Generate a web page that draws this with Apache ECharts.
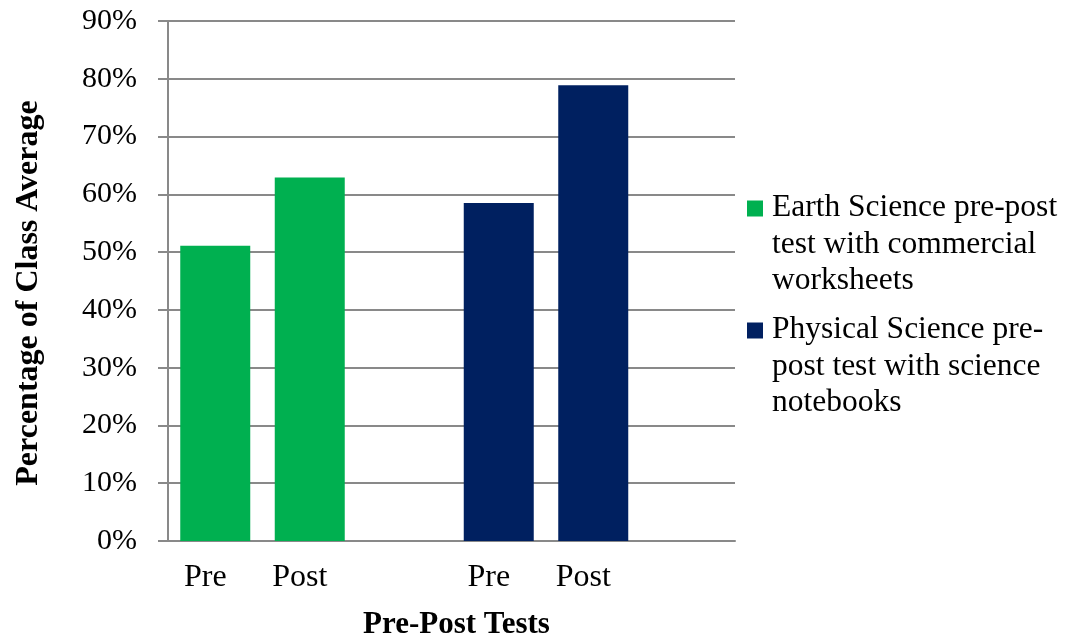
<!DOCTYPE html>
<html>
<head>
<meta charset="utf-8">
<script src="https://cdn.jsdelivr.net/npm/echarts@6/dist/echarts.min.js"></script>
<style>html,body{margin:0;padding:0;background:#fff}#c{width:1068px;height:639px}</style>
</head>
<body>
<div id="c"></div>
<script>
var categories = ['Pre', 'Post', '', 'Pre', 'Post', ''];
var earthName = 'Earth Science pre-post test with commercial worksheets';
var physName = 'Physical Science pre-post test with science notebooks';
var earthValues = [51.1, 62.9, null, null, null, null];
var physValues = [null, null, null, 58.5, 78.9, null];
var yTicks = [0, 10, 20, 30, 40, 50, 60, 70, 80, 90];
var legendLines = {};
legendLines[earthName] = ['Earth Science pre-post', 'test with commercial', 'worksheets'];
legendLines[physName] = ['Physical Science pre-', 'post test with science', 'notebooks'];

var font = '"Liberation Serif", "Times New Roman", serif';
var chart = echarts.init(document.getElementById('c'));
chart.setOption({
  animation: false,
  textStyle: { fontFamily: font },
  grid: { left: 168, right: 333, top: 21, bottom: 98, containLabel: false, outerBoundsMode: 'none' },
  legend: {
    orient: 'vertical',
    left: 747,
    top: 192,
    padding: 0,
    itemWidth: 16,
    itemHeight: 16,
    itemGap: 17,
    icon: 'rect',
    data: [earthName, physName],
    formatter: function (n) {
      return legendLines[n].map(function (l) { return '{t|' + l + '}'; }).join('\n');
    },
    textStyle: {
      fontFamily: font, fontSize: 31.5, color: '#000', padding: [72, 0, 0, 4],
      rich: { t: { fontFamily: font, fontSize: 31.5, color: '#000', lineHeight: 36.5 } }
    }
  },
  xAxis: {
    type: 'category',
    data: categories,
    name: 'Pre-Post Tests',
    nameLocation: 'middle',
    nameGap: 68,
    nameTextStyle: { fontFamily: font, fontSize: 31, fontWeight: 'bold', color: '#000', padding: [0, 0, 0, 10] },
    axisLine: { lineStyle: { color: '#898989', width: 2 } },
    axisTick: { show: false },
    axisLabel: { fontFamily: font, fontSize: 32, color: '#000', margin: 21, padding: [0, 20, 0, 0], interval: 0 },
    splitLine: { show: false }
  },
  yAxis: {
    type: 'value',
    min: 0,
    max: 90,
    interval: 10,
    name: 'Percentage of Class Average',
    nameLocation: 'middle',
    nameGap: 123,
    nameTextStyle: { fontFamily: font, fontSize: 32, fontWeight: 'bold', color: '#000', padding: [0, 24, 0, 0] },
    axisLine: { show: true, lineStyle: { color: '#898989', width: 2 } },
    axisTick: { show: true, length: 10, lineStyle: { color: '#898989', width: 2 } },
    axisLabel: {
      fontFamily: font, fontSize: 30, color: '#000', margin: 31,
      formatter: function (v) { return yTicks.indexOf(v) >= 0 ? v + '%' : ''; }
    },
    splitLine: { show: true, lineStyle: { color: '#898989', width: 2 } }
  },
  series: [
    { name: earthName, type: 'bar', data: earthValues, barWidth: 70, barGap: '-100%', itemStyle: { color: '#00B050' } },
    { name: physName, type: 'bar', data: physValues, barWidth: 70, barGap: '-100%', itemStyle: { color: '#002060' } }
  ]
});
</script>
</body>
</html>
